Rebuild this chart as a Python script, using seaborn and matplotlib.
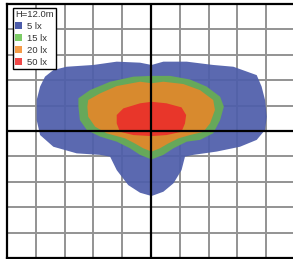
import matplotlib
matplotlib.use("Agg")
import matplotlib.pyplot as plt
from matplotlib.patches import Patch
import seaborn as sns

# Isolux contours (grid units, origin at luminaire)
blue_x = [-3.68, -3.39, -2.93, -2.00, -1.19, -0.38, 0.02, 0.43, 1.24, 2.16, 2.86, 3.67, 3.84, 3.96, 4.02, 3.96,
          3.67, 3.09, 2.28, 1.47, 1.18, 1.06, 0.78, 0.43, 0.02, -0.38, -0.79, -1.19, -1.42, -1.77, -2.58,
          -3.39, -3.85, -3.97, -3.97, -3.85]
blue_y = [2.14, 2.40, 2.53, 2.60, 2.73, 2.69, 2.60, 2.73, 2.73, 2.60, 2.53, 2.20, 1.75, 1.22, 0.56, 0.04,
          -0.35, -0.62, -0.81, -0.94, -1.01, -1.54, -2.06, -2.39, -2.56, -2.43, -2.13, -1.54, -1.01, -0.94, -0.88,
          -0.62, -0.16, 0.43, 1.22, 1.75]
green_x = [-2.52, -2.12, -1.42, -0.61, 0.00, 0.66, 1.35, 1.93, 2.40, 2.53, 2.40, 2.16, 1.70, 1.24, 0.78, 0.43,
           0.02, -0.38, -0.73, -1.19, -1.77, -2.23, -2.47, -2.52]
green_y = [1.29, 1.61, 1.94, 2.14, 2.17, 2.17, 2.03, 1.75, 1.35, 0.96, 0.43, -0.09, -0.35, -0.42, -0.68, -0.94,
           -1.12, -0.94, -0.68, -0.42, -0.22, 0.04, 0.43, 0.96]
orange_x = [-2.18, -1.77, -1.19, -0.38, 0.02, 0.43, 1.12, 1.70, 2.16, 2.22, 2.05, 1.82, 1.35, 0.95, 0.60, 0.31,
            0.02, -0.27, -0.56, -0.90, -1.54, -1.94, -2.18, -2.21]
orange_y = [1.22, 1.48, 1.77, 1.94, 1.88, 1.94, 1.85, 1.61, 1.22, 0.83, 0.30, -0.03, -0.16, -0.29, -0.49, -0.68,
            -0.81, -0.68, -0.49, -0.29, -0.09, 0.17, 0.56, 0.96]
red_x = [-1.19, -0.96, -0.38, 0.02, 0.54, 1.06, 1.22, 1.18, 1.06, 0.54, 0.02, -0.61, -1.08, -1.19]
red_y = [0.63, 0.89, 1.09, 1.15, 1.09, 0.93, 0.63, 0.30, -0.03, -0.16, -0.20, -0.16, -0.03, 0.30]

levels = ["5 lx", "15 lx", "20 lx", "50 lx"]
fill_colors = ["#4e5eaa", "#66a85a", "#d88a2e", "#e8362a"]
legend_colors = ["#4c5caa", "#7ccc66", "#f59c48", "#f04848"]
title = "H=12.0m"

sns.set_theme(style="white")
plt.rcParams['font.family'] = ['Liberation Sans', 'DejaVu Sans']

fig = plt.figure(figsize=(2.93, 2.59), dpi=100)
ax = fig.add_axes([7 / 293, 1 - 258 / 259, 288 / 293, 254 / 259])
ax.set_xlim(-5, 5)
ax.set_ylim(-5, 5)

for v in range(-4, 5):
    if v == 0:
        continue
    ax.axvline(v, color="#939393", lw=1.4, zorder=1)
    ax.axhline(v, color="#939393", lw=1.4, zorder=1)

shapes = [(blue_x, blue_y), (green_x, green_y), (orange_x, orange_y), (red_x, red_y)]
alphas = [0.93, 1, 1, 1]
for (xs, ys), c, a in zip(shapes, fill_colors, alphas):
    ax.fill(xs, ys, color=c, alpha=a, lw=0, zorder=2)

ax.axvline(0, color="black", lw=1.6, zorder=3)
ax.axhline(0, color="black", lw=1.6, zorder=3)

ax.set_xticks([])
ax.set_yticks([])
for s in ax.spines.values():
    s.set_color("black")
    s.set_linewidth(1.6)

handles = [Patch(facecolor=c, edgecolor="none") for c in legend_colors]
leg = ax.legend(handles, levels, title=title, loc="upper left", bbox_to_anchor=(0.02, 0.985),
                fontsize=6.8, title_fontsize=6.8, frameon=True, fancybox=False,
                handlelength=0.75, handleheight=0.75, handletextpad=0.5, labelspacing=0.3,
                borderpad=0.25, borderaxespad=0.0, alignment="left", labelcolor="#333333")
leg.get_frame().set_edgecolor("black")
leg.get_frame().set_linewidth(1.0)
leg.get_frame().set_facecolor("white")
leg.get_frame().set_alpha(1)
leg.get_title().set_color("#333333")
leg.set_zorder(5)

fig.savefig("out.png", dpi=100)
